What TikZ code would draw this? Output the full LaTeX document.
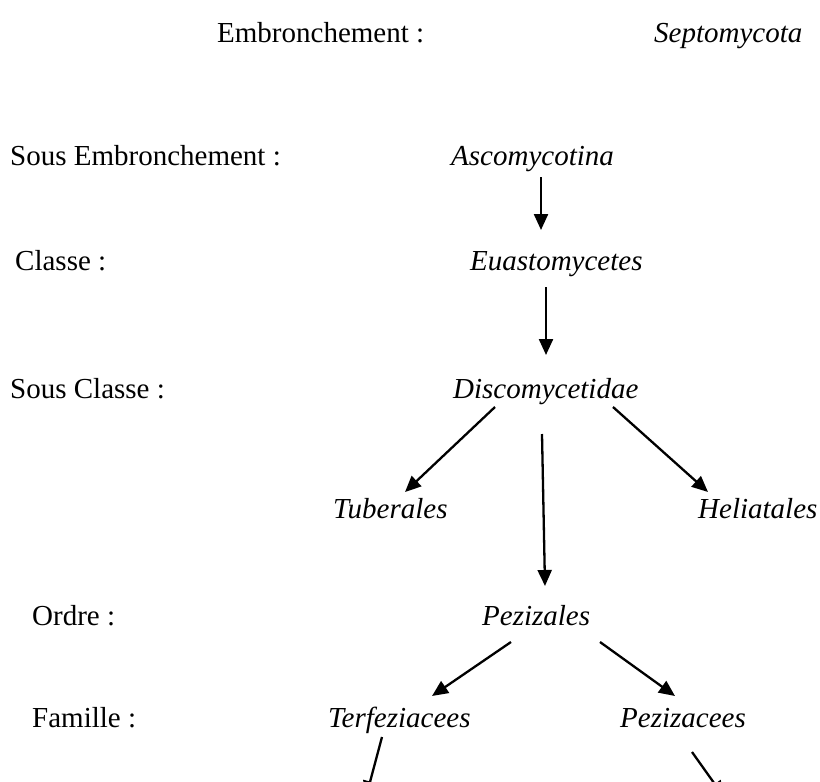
\documentclass[tikz,border=0pt]{standalone}
\usepackage{fontspec}
\setmainfont{Liberation Serif}
\usetikzlibrary{arrows.meta}
\begin{document}
\begin{tikzpicture}[x=1pt,y=-1pt,
  lbl/.style={anchor=base west,inner sep=0pt,font=\fontsize{29}{34}\selectfont},
  taxon/.style={lbl,font=\fontsize{29}{34}\selectfont\itshape},
  arr/.style={line width=2.3pt,-{Triangle[length=16pt,width=14pt]}}]
\useasboundingbox (0,0) rectangle (820,782);
\clip (0,0) rectangle (820,782);
% rank labels
\node[lbl] (embr) at (217,42) {Embronchement :};
\node[lbl] (sembr) at (10,165) {Sous Embronchement :};
\node[lbl] (classe) at (15,270) {Classe :};
\node[lbl] (sclasse) at (10,398) {Sous Classe :};
\node[lbl] (ordre) at (32,625) {Ordre :};
\node[lbl] (famille) at (32,727) {Famille :};
% taxa
\node[taxon] (septo) at (654,42) {Septomycota};
\node[taxon] (asco) at (451,165) {Ascomycotina};
\node[taxon] (euast) at (470,270) {Euastomycetes};
\node[taxon] (disco) at (453,398) {Discomycetidae};
\node[taxon] (tuber) at (333,518) {Tuberales};
\node[taxon] (helia) at (698,518) {Heliatales};
\node[taxon] (pezl) at (482,625) {Pezizales};
\node[taxon] (terf) at (328,727) {Terfeziacees};
\node[taxon] (pezc) at (620,727) {Pezizacees};
% connector end points
\coordinate (a1) at (541,177); \coordinate (b1) at (541,230);
\coordinate (a2) at (546,287); \coordinate (b2) at (546,355);
\coordinate (a3) at (495,407); \coordinate (b3) at (405,492);
\coordinate (a4) at (542,434); \coordinate (b4) at (545,586);
\coordinate (a5) at (613,407); \coordinate (b5) at (708,492);
\coordinate (a6) at (511,642); \coordinate (b6) at (432,696);
\coordinate (a7) at (600,642); \coordinate (b7) at (675,696);
\coordinate (a8) at (382,737); \coordinate (b8) at (366,797);
\coordinate (a9) at (692,752); \coordinate (b9) at (724,797);
\foreach \i in {1,...,9} \draw[arr] (a\i) -- (b\i);
\end{tikzpicture}
\end{document}
